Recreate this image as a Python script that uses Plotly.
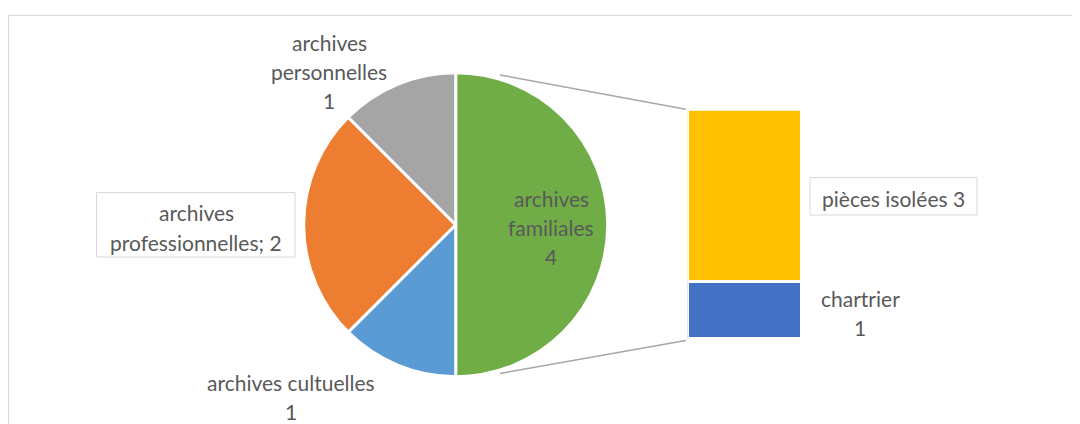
import plotly.graph_objects as go

W, H = 1080, 424
OFF = 8  # page body margin: the figure starts at (8, 8) in the window

# pie: first slice is the one split out into the bar
PIE_LABELS = ["archives familiales", "archives cultuelles", "archives professionnelles", "archives personnelles"]
PIE_VALUES = [4, 1, 2, 1]
PIE_COLORS = ["#70AD47", "#5B9BD5", "#ED7D31", "#A5A5A5"]

# bar: stacked from the bottom up
BAR_LABELS = ["chartrier", "pièces isolées"]
BAR_VALUES = [1, 3]
BAR_COLORS = ["#4472C4", "#FFC000"]

TEXT = "#595959"
FONT = "Lato"
FS = 21
LINE = 29


def px(x):
    return (x - OFF) / W


def py(y):
    return 1 - (y - OFF) / H


# geometry in window pixels
PIE_CX, PIE_CY, PIE_R = 455.7, 224.7, 152
BAR_L, BAR_R, BAR_T, BAR_B = 687.8, 801.5, 110.2, 339.5

fig = go.Figure()

fig.add_trace(go.Pie(
    labels=PIE_LABELS, values=PIE_VALUES, sort=False,
    direction="clockwise", rotation=0,
    marker=dict(colors=PIE_COLORS, line=dict(color="white", width=3)),
    textinfo="none", hoverinfo="label+value", showlegend=False,
    domain=dict(x=[px(PIE_CX - PIE_R), px(PIE_CX + PIE_R)],
                y=[py(PIE_CY + PIE_R), py(PIE_CY - PIE_R)]),
))

for lab, val, col in zip(BAR_LABELS, BAR_VALUES, BAR_COLORS):
    fig.add_trace(go.Bar(
        x=[""], y=[val], name=lab, showlegend=False,
        marker=dict(color=col, line=dict(color="white", width=3)),
        hovertemplate=f"{lab}: %{{y}}<extra></extra>",
    ))

# connector lines pie -> bar
shapes = [
    dict(type="line", xref="paper", yref="paper",
         x0=px(500), y0=py(75), x1=px(BAR_L - 2), y1=py(BAR_T - 1),
         line=dict(color="#A6A6A6", width=1.5)),
    dict(type="line", xref="paper", yref="paper",
         x0=px(500), y0=py(373.5), x1=px(BAR_L - 2), y1=py(BAR_B + 1),
         line=dict(color="#A6A6A6", width=1.5)),
    # chart frame (cropped on right and bottom)
    dict(type="rect", xref="paper", yref="paper",
         x0=px(8.5), y0=py(440), x1=px(1100), y1=py(15.5),
         line=dict(color="#D9D9D9", width=1)),
    # label boxes
    dict(type="rect", xref="paper", yref="paper",
         x0=px(96.5), y0=py(257), x1=px(295), y1=py(192.5),
         line=dict(color="#D9D9D9", width=1), fillcolor="white"),
    dict(type="rect", xref="paper", yref="paper",
         x0=px(810), y0=py(215), x1=px(977), y1=py(177.5),
         line=dict(color="#D9D9D9", width=1), fillcolor="white"),
]

# label text lines and their centre positions (window px)
LABEL_LINES = [
    (["archives", "familiales", f"{PIE_VALUES[0]}"], 551, 198),
    (["archives cultuelles", f"{PIE_VALUES[1]}"], 291, 382),
    (["archives", f"professionnelles; {PIE_VALUES[2]}"], 196, 213),
    (["archives", "personnelles", f"{PIE_VALUES[3]}"], 329, 42),
    ([f"{BAR_LABELS[1]} {BAR_VALUES[1]}"], 893, 198),
    ([BAR_LABELS[0], f"{BAR_VALUES[0]}"], 860, 298),
]

annotations = []
for lines, cx, cy in LABEL_LINES:
    for i, t in enumerate(lines):
        annotations.append(dict(
            text=t, xref="paper", yref="paper", x=px(cx), y=py(cy + i * LINE),
            xanchor="center", yanchor="middle", showarrow=False,
            font=dict(family=FONT, size=FS, color=TEXT),
        ))

fig.update_layout(
    width=W, height=H,
    margin=dict(l=0, r=0, t=0, b=0),
    paper_bgcolor="white", plot_bgcolor="white",
    barmode="stack", bargap=0,
    xaxis=dict(domain=[px(BAR_L), px(BAR_R)], range=[-0.5, 0.5], visible=False, fixedrange=True),
    yaxis=dict(domain=[py(BAR_B), py(BAR_T)], range=[0, sum(BAR_VALUES)], visible=False, fixedrange=True),
    shapes=shapes,
    annotations=annotations,
    font=dict(family=FONT, color=TEXT),
)

fig.write_html("out.html")
